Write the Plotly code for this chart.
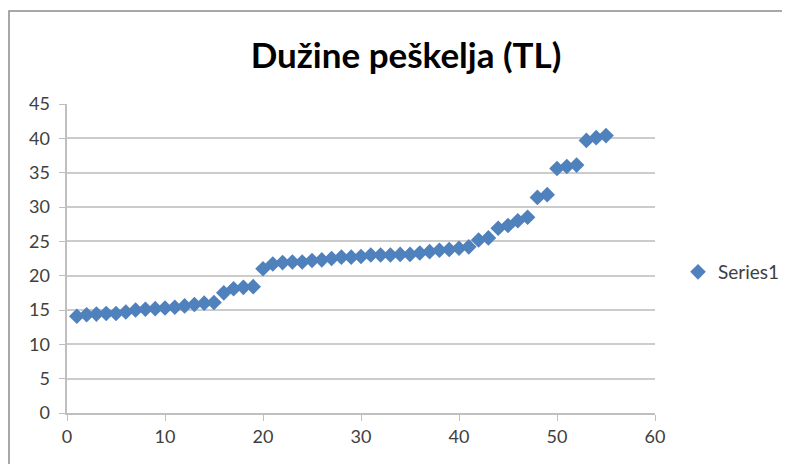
import plotly.graph_objects as go

x_vals = list(range(1, 56))
y_vals = [14.1, 14.3, 14.4, 14.5, 14.5, 14.7, 15.0, 15.1, 15.2, 15.3,
          15.4, 15.6, 15.8, 16.0, 16.1, 17.5, 18.1, 18.3, 18.4, 21.0,
          21.7, 21.9, 22.0, 22.0, 22.2, 22.3, 22.5, 22.7, 22.7, 22.8,
          23.0, 23.0, 23.0, 23.1, 23.1, 23.3, 23.5, 23.7, 23.8, 24.0,
          24.2, 25.2, 25.5, 26.9, 27.3, 28.0, 28.5, 31.4, 31.8, 35.6,
          35.9, 36.1, 39.7, 40.1, 40.4]
series_name = "Series1"
title_text = "Dužine peškelja (TL)"
x_range = [0, 60]
y_range = [0, 45]

font_family = "Lato, 'Open Sans', sans-serif"
tick_font = dict(family=font_family, size=18, color="#404040")

# page is offset by 8px body margin; figure coords = window coords - 8
L, R, T, B = 42, 143, 96, 48
PW = 790 - L - R
PH = 464 - T - B
AX_LEFT = 59      # figure x of y-axis line
AX_BOTTOM = 405   # figure y of x-axis line
xdom0 = (AX_LEFT - L) / PW
ydom0 = (464 - B - AX_BOTTOM) / PH

fig = go.Figure()
fig.add_trace(go.Scatter(
    x=x_vals, y=y_vals, mode="markers", name=series_name,
    marker=dict(symbol="diamond", size=12, color="#4F81BD",
                line=dict(width=0)),
))
# invisible copy so the label-only overlay axes are drawn
fig.add_trace(go.Scatter(
    x=x_vals, y=y_vals, mode="markers", xaxis="x2", yaxis="y2",
    marker=dict(size=1, opacity=0), showlegend=False, hoverinfo="skip",
))

fig.update_layout(
    width=790, height=464,
    margin=dict(l=L, r=R, t=T, b=B, autoexpand=False),
    paper_bgcolor="white", plot_bgcolor="white",
    title=dict(text="<b>" + title_text + "</b>", x=398 / 790, xanchor="center",
               xref="container", y=1 - 48 / 464, yanchor="middle",
               yref="container",
               font=dict(family=font_family, size=35, color="#000000")),
    showlegend=True,
    legend=dict(x=(670 - L) / PW, y=(464 - B - 264) / PH, xanchor="left",
                yanchor="middle",
                font=dict(family=font_family, size=19, color="#404040"),
                itemwidth=30, bgcolor="rgba(0,0,0,0)"),
    xaxis=dict(range=x_range, dtick=10, tick0=0, showgrid=False,
               domain=[xdom0, 1], anchor="y",
               showline=True, linecolor="#BFBFBF", linewidth=1.5,
               ticks="outside", ticklen=6, tickcolor="#BFBFBF",
               showticklabels=False,
               zeroline=False, automargin=False),
    yaxis=dict(range=y_range, dtick=5, tick0=0, showgrid=True,
               domain=[ydom0, 1], anchor="x",
               gridcolor="#CCCCCC", gridwidth=1.5,
               showline=True, linecolor="#BFBFBF", linewidth=1.5,
               ticks="outside", ticklen=6, tickcolor="#BFBFBF",
               showticklabels=False,
               zeroline=False, automargin=False),
    xaxis2=dict(range=x_range, dtick=10, tick0=0, overlaying="x",
                anchor="free", position=0, side="bottom",
                showgrid=False, showline=False, ticks="", zeroline=False,
                automargin=False, tickfont=tick_font),
    yaxis2=dict(range=y_range, dtick=5, tick0=0, overlaying="y",
                anchor="free", position=0, side="left",
                showgrid=False, showline=False, ticks="", zeroline=False,
                automargin=False, tickfont=tick_font),
    shapes=[dict(type="rect", xref="paper", yref="paper",
                 x0=(1 - L) / PW, x1=(800 - L) / PW, y0=-0.4,
                 y1=1 + (T - 3) / PH,
                 line=dict(color="#8C8C8C", width=1.5),
                 fillcolor="rgba(0,0,0,0)", layer="below")],
)

fig.write_html("out.html")
